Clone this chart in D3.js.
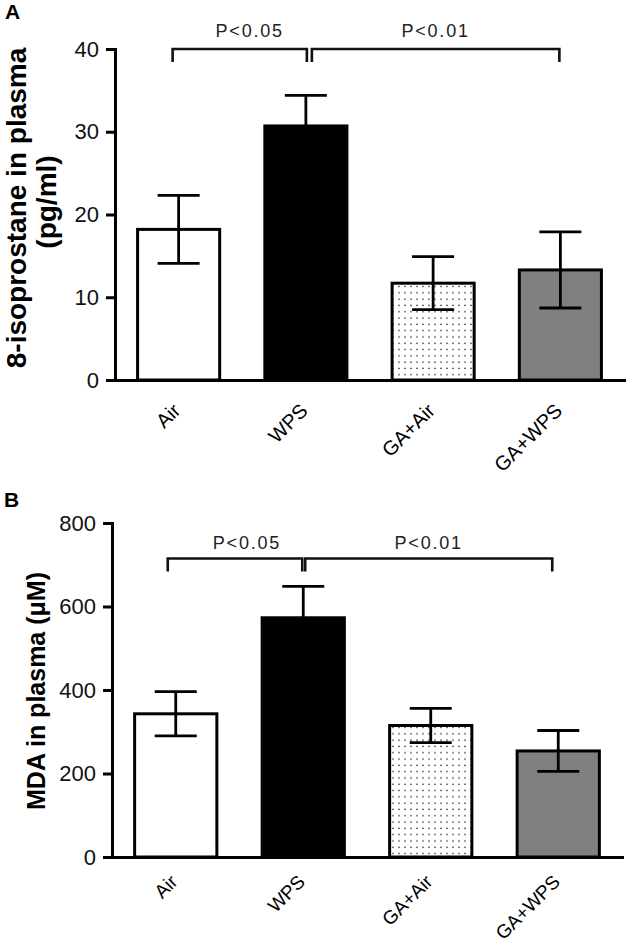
<!DOCTYPE html>
<html><head><meta charset="utf-8">
<script src="https://cdn.jsdelivr.net/npm/d3@7/dist/d3.min.js"></script>
<style>
body{margin:0;background:#fff}
svg{display:block}
text{font-family:"Liberation Sans",Arial,Helvetica,sans-serif}
</style></head>
<body>
<script>
// ---- data ----
const categories = ["Air", "WPS", "GA+Air", "GA+WPS"];
const isoMean = [18.2, 30.7, 11.7, 13.3];
const isoErr = [4.1, 3.7, 3.2, 4.6];
const isoTicks = [0, 10, 20, 30, 40];
const mdaMean = [343, 573, 315, 254];
const mdaErr = [53, 75, 41, 49];
const mdaTicks = [0, 200, 400, 600, 800];
const isoComparisons = [
  {from: "Air", to: "WPS", label: "P<0.05", level: 40},
  {from: "WPS", to: "GA+WPS", label: "P<0.01", level: 40}
];
const mdaComparisons = [
  {from: "Air", to: "WPS", label: "P<0.05", level: 715},
  {from: "WPS", to: "GA+WPS", label: "P<0.01", level: 715}
];
const fills = ["#ffffff", "#000000", "url(#dots)", "#808080"];

// ---- drawing ----
const W = 633, H = 948;
const svg = d3.select("body").append("svg").attr("width", W).attr("height", H);

const defs = svg.append("defs");
const pat = defs.append("pattern").attr("id", "dots").attr("patternUnits", "userSpaceOnUse")
  .attr("width", 6).attr("height", 6.3);
pat.append("rect").attr("width", 6).attr("height", 6.3).attr("fill", "#fff");
pat.append("circle").attr("cx", 3).attr("cy", 3).attr("r", 0.85).attr("fill", "#333");

function panel(cfg) {
  const g = svg.append("g");
  const x = d3.scaleBand().domain(categories).range(cfg.xr).paddingInner(0.355).paddingOuter(0.1775);
  const y = d3.scaleLinear().domain([0, cfg.ticks[cfg.ticks.length - 1]]).range(cfg.yr);

  // bars
  g.selectAll("rect.bar").data(categories).enter().append("rect")
    .attr("x", d => x(d)).attr("width", x.bandwidth())
    .attr("y", (d, i) => y(cfg.mean[i])).attr("height", (d, i) => y(0) - y(cfg.mean[i]))
    .attr("fill", (d, i) => fills[i]).attr("stroke", "#000").attr("stroke-width", 3);

  // error bars
  const cap = 21;
  const eb = g.selectAll("g.err").data(categories).enter().append("g")
    .attr("stroke", "#000").attr("stroke-width", 2.8);
  eb.append("line").attr("x1", d => x(d) + x.bandwidth() / 2).attr("x2", d => x(d) + x.bandwidth() / 2)
    .attr("y1", (d, i) => y(cfg.mean[i] + cfg.err[i])).attr("y2", (d, i) => y(cfg.mean[i] - cfg.err[i]));
  eb.append("line").attr("x1", d => x(d) + x.bandwidth() / 2 - cap).attr("x2", d => x(d) + x.bandwidth() / 2 + cap)
    .attr("y1", (d, i) => y(cfg.mean[i] + cfg.err[i])).attr("y2", (d, i) => y(cfg.mean[i] + cfg.err[i]));
  eb.append("line").attr("x1", d => x(d) + x.bandwidth() / 2 - cap).attr("x2", d => x(d) + x.bandwidth() / 2 + cap)
    .attr("y1", (d, i) => y(cfg.mean[i] - cfg.err[i])).attr("y2", (d, i) => y(cfg.mean[i] - cfg.err[i]));

  // y axis
  const ya = g.append("g").attr("transform", `translate(${cfg.xr[0]},0)`)
    .call(d3.axisLeft(y).tickValues(cfg.ticks).tickSize(9).tickSizeOuter(0).tickPadding(7));
  ya.attr("font-size", 22).attr("font-family", null);
  ya.select(".domain").attr("stroke-width", 3).attr("stroke-linecap", "square");
  ya.selectAll(".tick line").attr("stroke-width", 3);
  ya.selectAll(".tick text").attr("font-size", 22).attr("fill", "#111");

  // x axis
  const xa = g.append("g").attr("transform", `translate(0,${cfg.yr[0]})`)
    .call(d3.axisBottom(x).tickSize(0).tickSizeOuter(0));
  xa.attr("font-size", cfg.labSize).attr("font-family", null);
  xa.select(".domain").attr("stroke-width", 3).attr("stroke-linecap", "square");
  xa.selectAll(".tick text").attr("y", 0).attr("dy", 0).attr("text-anchor", "end")
    .attr("transform", `translate(${cfg.labDx},${cfg.labDy}) rotate(-45)`)
    .attr("font-size", cfg.labSize).attr("fill", "#000");

  // brackets
  cfg.comps.forEach((c, k) => {
    const x1 = x(c.from) + x.bandwidth() / 2 + cfg.brOff[k][0];
    const x2 = x(c.to) + x.bandwidth() / 2 + cfg.brOff[k][1];
    const yl = y(c.level);
    g.append("path").attr("d", `M${x1},${yl + 13}V${yl}H${x2}V${yl + 13}`)
      .attr("fill", "none").attr("stroke", "#111").attr("stroke-width", 2.6);
    g.append("text").attr("x", (x1 + x2) / 2 + cfg.txtOff[k]).attr("y", yl - cfg.txtGap)
      .attr("text-anchor", "middle").attr("font-size", 18).attr("letter-spacing", 1.8)
      .attr("fill", "#222").text(c.label);
  });

  // titles
  cfg.title.forEach(t => {
    g.append("text").attr("transform", `translate(${t.x},${t.y}) rotate(-90)`)
      .attr("text-anchor", "middle").attr("font-size", t.size).attr("font-weight", "bold")
      .attr("fill", "#000").text(t.text);
  });
  g.append("text").attr("x", cfg.letter.x).attr("y", cfg.letter.y)
    .attr("font-size", 21).attr("font-weight", "bold").text(cfg.letter.text);
}

panel({
  xr: [115, 624], yr: [380, 49], ticks: isoTicks, mean: isoMean, err: isoErr,
  comps: isoComparisons, brOff: [[-6, 1], [6, -1]], txtOff: [10, 0], txtGap: 12,
  labDx: 3, labDy: 32, labSize: 20,
  title: [{text: "8-isoprostane in plasma", x: 26, y: 208, size: 28}, {text: "(pg/ml)", x: 56, y: 202, size: 28}],
  letter: {text: "A", x: 5, y: 19}
});

panel({
  xr: [112, 622], yr: [857, 523], ticks: mdaTicks, mean: mdaMean, err: mdaErr,
  comps: mdaComparisons, brOff: [[-8, -1], [2, -6]], txtOff: [12, 0], txtGap: 9,
  labDx: 3, labDy: 26, labSize: 19,
  title: [{text: "MDA in plasma (\u03bcM)", x: 45, y: 691, size: 25}],
  letter: {text: "B", x: 4, y: 507}
});
</script>
</body></html>
